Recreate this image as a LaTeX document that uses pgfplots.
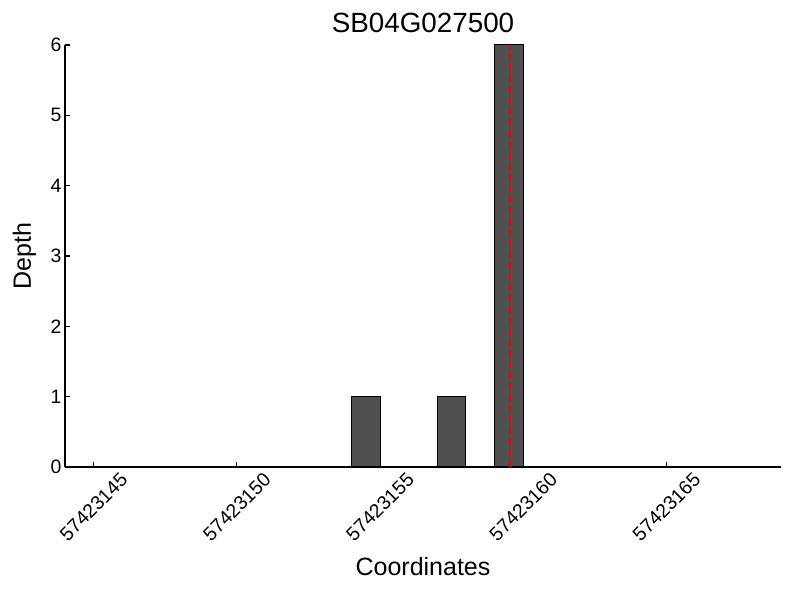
\documentclass[border=0pt]{standalone}
\usepackage{pgfplots}
\pgfplotsset{compat=1.18}
\usepackage{fontspec}
\setmainfont{Liberation Sans}
\definecolor{barfill}{RGB}{80,80,80}
\begin{document}
\begin{tikzpicture}
% x positions are offsets from 57423144
\begin{axis}[
  scale only axis,width=716pt,height=422pt,
  xmin=0,xmax=25,ymin=0,ymax=6,
  axis x line*=bottom,axis y line*=left,
  axis line style={-,line width=1.1pt},
  tick align=inside,major tick length=5pt,
  tick style={line width=1.1pt,black},
  xtick={1,6,11,16,21},
  xticklabels={57423145,57423150,57423155,57423160,57423165},
  ytick={0,1,2,3,4,5,6},
  tick label style={font=\fontsize{19.4}{22}\selectfont},
  /pgf/number format/assume math mode=true,
  xticklabel style={yshift=-40pt,rotate=45,anchor=center},
  title={SB04G027500},
  title style={font=\fontsize{27.8}{32}\selectfont,at={(axis description cs:0.5,1.0142)},anchor=base},
  xlabel={Coordinates},
  xlabel style={font=\fontsize{25}{29}\selectfont,at={(axis description cs:0.5,-0.2583)},anchor=base},
  ylabel={Depth},
  ylabel style={font=\fontsize{25}{29}\selectfont,at={(axis description cs:-0.0475,0.5)},anchor=base},
  clip=false,
]
\addplot[ybar,bar width=1,bar shift=0,fill=barfill,draw=black,line width=1pt] coordinates {(10.5,1) (13.5,1) (15.5,6)};
\addplot[red,line width=2pt,dash pattern=on 7pt off 4pt] coordinates {(15.55,0) (15.55,6)};
\end{axis}
\pgfresetboundingbox
\path ([xshift=-65pt,yshift=-133pt]current axis.south west) rectangle ([xshift=19pt,yshift=45pt]current axis.north east);
\end{tikzpicture}
\end{document}
